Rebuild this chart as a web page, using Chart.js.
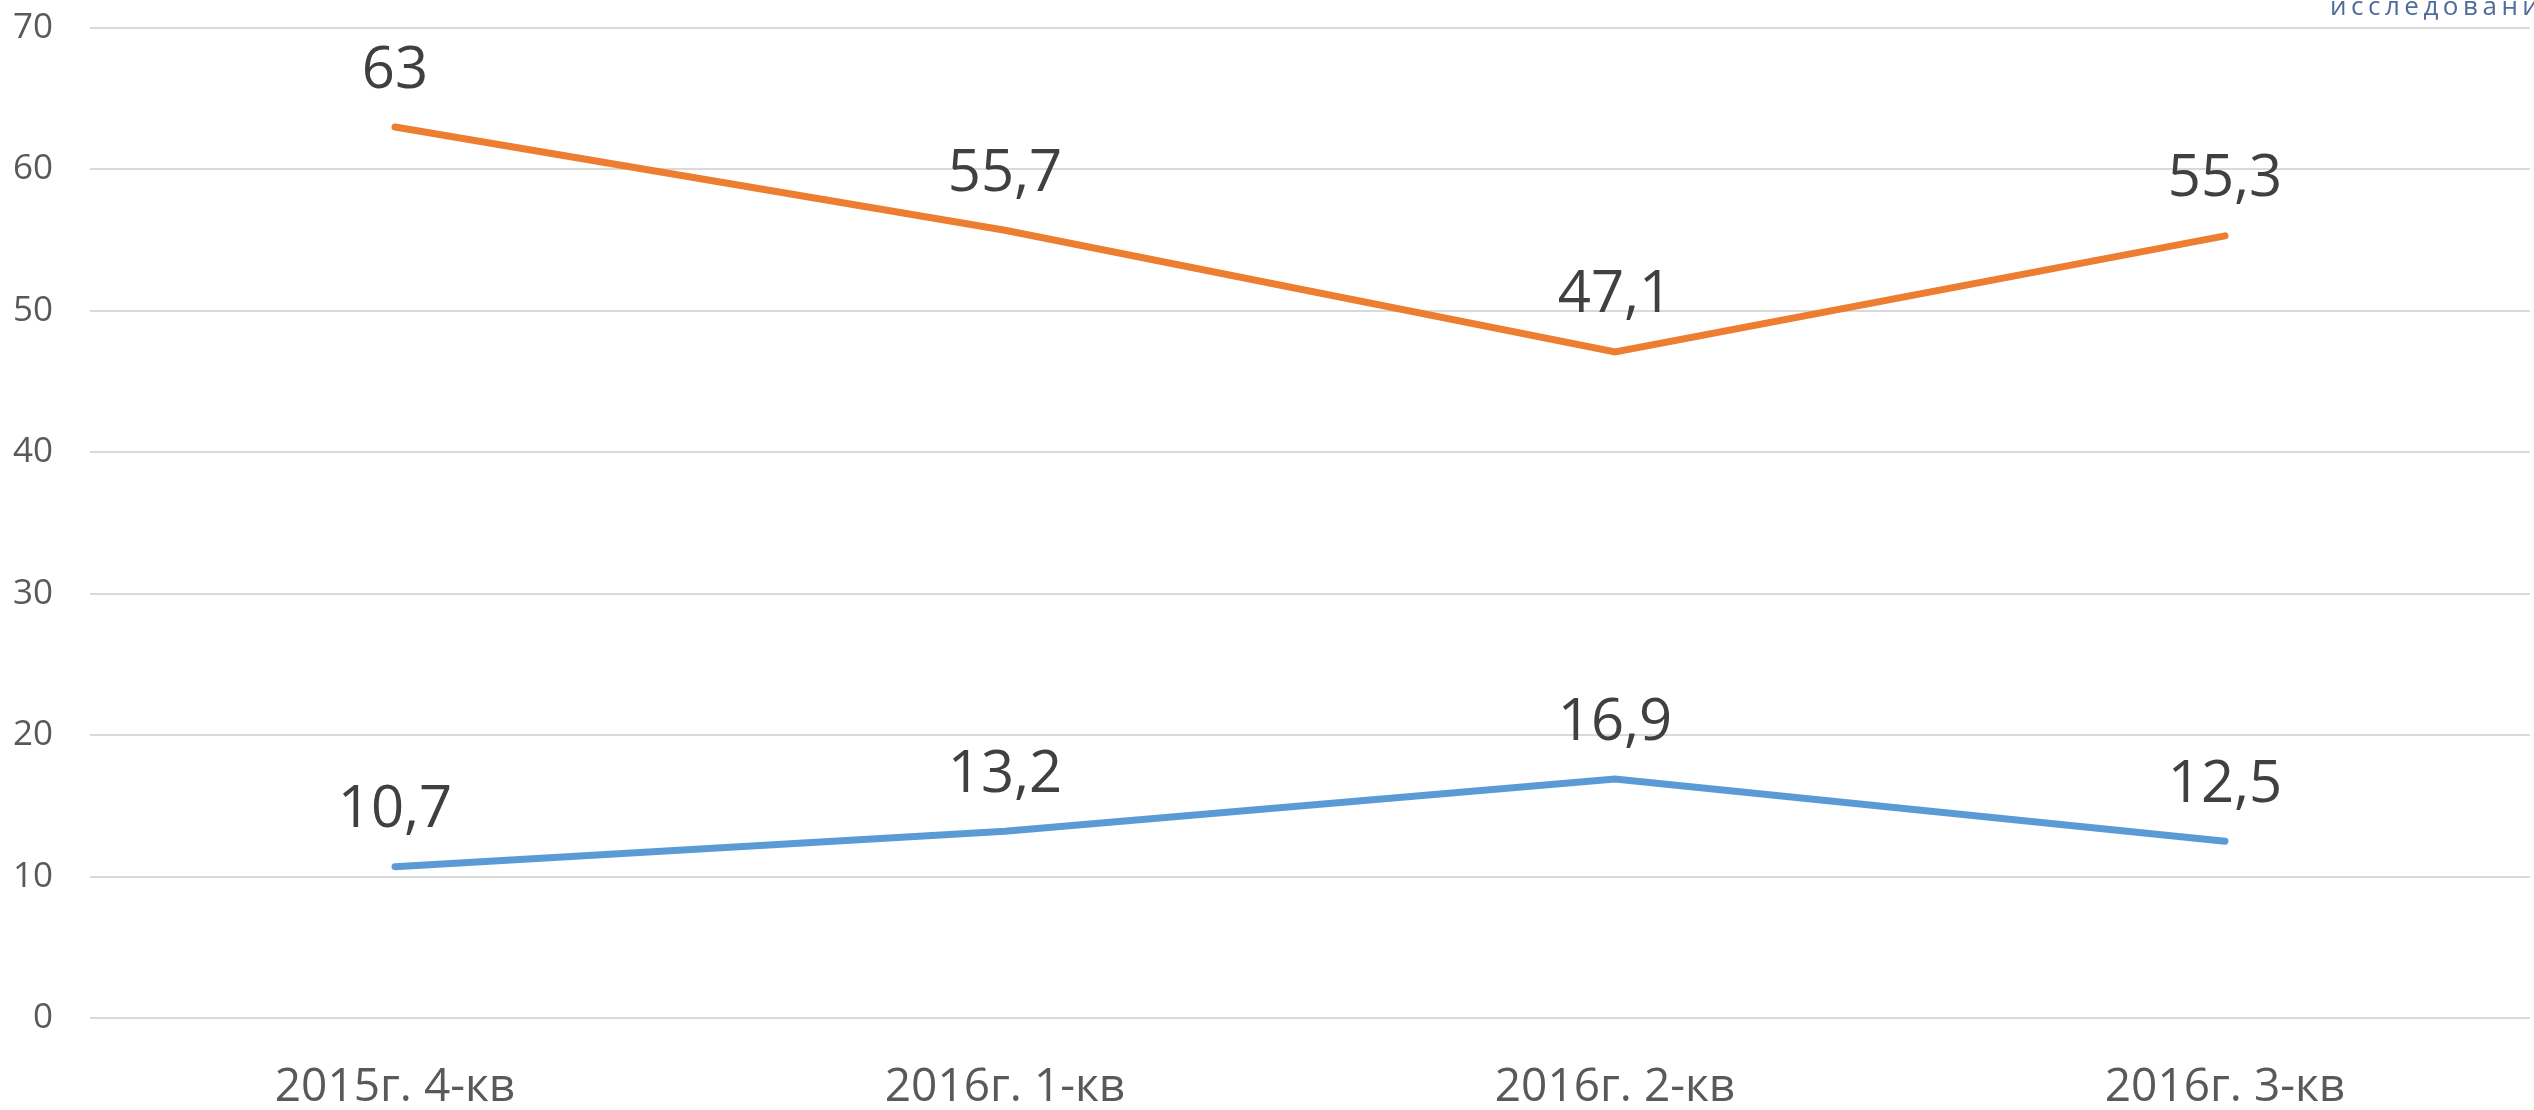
<!DOCTYPE html>
<html>
<head>
<meta charset="utf-8">
<script src="https://cdn.jsdelivr.net/npm/chart.js@4/dist/chart.umd.min.js"></script>
<style>
    html, body { margin: 0; padding: 0; background: #fff; }
    #wrap { width: 2534px; height: 1110px; position: relative; }
</style>
</head>
<body>
<div id="wrap"><canvas id="chart"></canvas></div>
<script>
const categories = ["2015г. 4-кв", "2016г. 1-кв", "2016г. 2-кв", "2016г. 3-кв"];
const orangeValues = [63, 55.7, 47.1, 55.3];
const blueValues = [10.7, 13.2, 16.9, 12.5];
const yTicks = [0, 10, 20, 30, 40, 50, 60, 70];

const fontFamily = "'Open Sans', 'Noto Sans', sans-serif";

// value labels above each point, with comma as decimal separator
const valueLabels = {
    id: "valueLabels",
    afterDatasetsDraw(chart) {
        const ctx = chart.ctx;
        ctx.save();
        ctx.font = "58px " + fontFamily;
        ctx.fillStyle = "#404040";
        ctx.textAlign = "center";
        ctx.textBaseline = "middle";
        chart.data.datasets.forEach((ds, i) => {
            chart.getDatasetMeta(i).data.forEach((pt, j) => {
                const text = String(ds.data[j]).replace(".", ",");
                ctx.fillText(text, pt.x, pt.y - 56);
            });
        });
        ctx.restore();
    }
};

// cut-off watermark in the top right corner
const watermark = {
    id: "watermark",
    afterDraw(chart) {
        const ctx = chart.ctx;
        ctx.save();
        ctx.font = "26px " + fontFamily;
        ctx.fillStyle = "#4f6d9a";
        ctx.letterSpacing = "4.5px";
        ctx.textAlign = "left";
        ctx.textBaseline = "alphabetic";
        ctx.fillText("исследований", 2330, 15);
        ctx.restore();
    }
};

const ctx = document.getElementById("chart").getContext("2d");
new Chart(ctx, {
    type: "line",
    data: {
        labels: categories,
        datasets: [
            {
                label: "orange",
                data: orangeValues,
                borderColor: "#ED7D31",
                backgroundColor: "#ED7D31",
                borderWidth: 7,
                borderCapStyle: "round",
                pointRadius: 0,
                tension: 0
            },
            {
                label: "blue",
                data: blueValues,
                borderColor: "#5B9BD5",
                backgroundColor: "#5B9BD5",
                borderWidth: 7,
                borderCapStyle: "round",
                pointRadius: 0,
                tension: 0
            }
        ]
    },
    options: {
        responsive: true,
        maintainAspectRatio: false,
        animation: false,
        layout: {
            padding: {top: 28, right: 4, left: 0, bottom: 0}
        },
        scales: {
            x: {
                offset: true,
                grid: {display: false, drawTicks: false},
                border: {display: false},
                ticks: {
                    color: "#595959",
                    font: {family: fontFamily, size: 46},
                    padding: 42,
                    maxRotation: 0
                },
                afterFit: function (scale) {
                    scale.height = 92;
                    scale.paddingLeft = 0;
                    scale.paddingRight = 0;
                }
            },
            y: {
                min: 0,
                max: 70,
                afterBuildTicks: function (scale) {
                    scale.ticks = yTicks.map(v => ({value: v}));
                },
                grid: {color: "#d9d9d9", lineWidth: 2, drawTicks: false},
                border: {display: false},
                ticks: {
                    color: "#595959",
                    font: {family: fontFamily, size: 35},
                    padding: 37
                },
                afterFit: function (scale) {
                    scale.width = 90;
                    scale.paddingTop = 0;
                    scale.paddingBottom = 0;
                }
            }
        },
        plugins: {
            legend: {display: false},
            tooltip: {enabled: false}
        }
    },
    plugins: [valueLabels, watermark]
});
</script>
</body>
</html>
